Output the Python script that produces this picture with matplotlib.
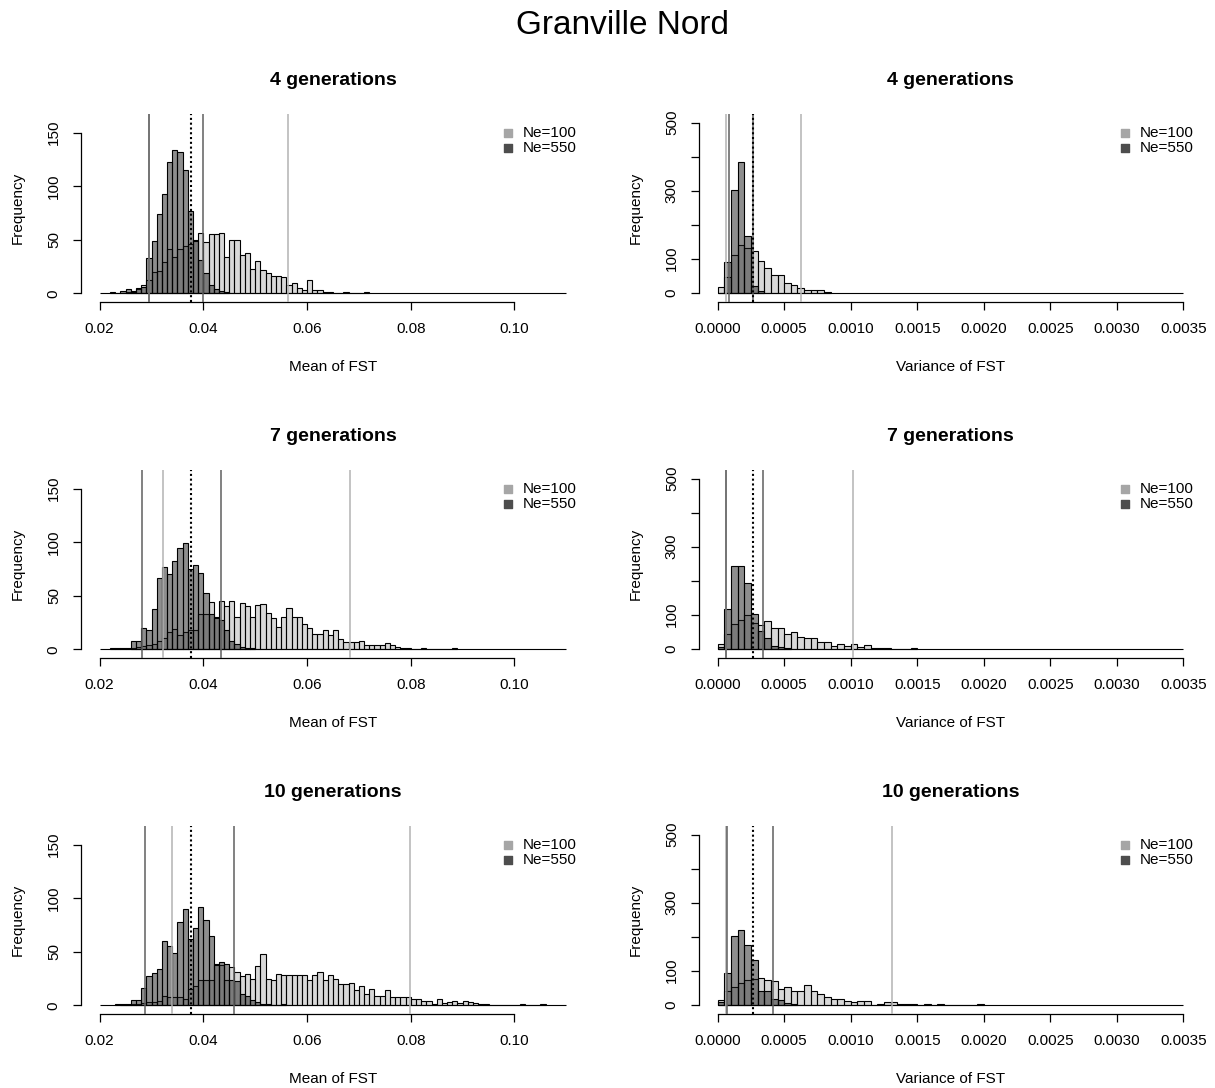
import numpy as np
import matplotlib
matplotlib.use("Agg")
import matplotlib.pyplot as plt

plt.rcParams['font.family'] = ['Liberation Sans', 'DejaVu Sans']

# ---- data ----
generations = ["4 generations", "7 generations", "10 generations"]

# Mean of FST histograms, bin width 0.001
mean_binw = 0.001
mean_ne100_start = [0.025, 0.026, 0.024]
mean_ne100_counts = [
    [1, 2, 4, 8, 12, 20, 21, 29, 41, 34, 41, 44, 46, 50, 56, 48, 55, 55, 56, 34,
     50, 50, 36, 38, 23, 30, 22, 19, 16, 16, 15, 8, 10, 5, 3, 12, 3, 3, 1, 1,
     0, 0, 1, 0, 0, 0, 1],
    [1, 2, 3, 4, 5, 8, 11, 16, 19, 13, 16, 18, 18, 33, 33, 44, 30, 45, 40, 45,
     30, 43, 40, 30, 41, 42, 34, 29, 21, 30, 39, 30, 30, 24, 20, 14, 14, 18, 13, 18,
     10, 7, 7, 7, 8, 4, 4, 4, 4, 6, 4, 2, 1, 1, 0, 0, 1, 0, 0, 0,
     0, 0, 1],
    [1, 0, 1, 1, 2, 3, 3, 4, 9, 8, 8, 8, 6, 15, 18, 24, 24, 24, 39, 38,
     24, 36, 31, 27, 29, 25, 37, 48, 25, 24, 29, 28, 28, 28, 28, 28, 24, 28, 31, 24,
     28, 25, 20, 20, 21, 14, 18, 11, 15, 9, 9, 14, 8, 8, 8, 8, 6, 6, 4, 4,
     1, 6, 2, 3, 4, 2, 4, 3, 2, 1, 1, 0, 0, 0, 0, 0, 0, 1, 0, 0, 0, 1],
]
mean_ne550_start = [0.022, 0.022, 0.023]
mean_ne550_counts = [
    [1, 0, 2, 4, 1, 5, 6, 33, 49, 74, 93, 123, 134, 132, 115, 77, 49, 31, 19, 8,
     4, 2, 1],
    [1, 1, 1, 1, 8, 8, 20, 18, 38, 67, 77, 70, 82, 95, 99, 75, 79, 71, 53, 33,
     29, 27, 18, 8, 5, 2, 1, 1],
    [1, 0, 1, 5, 5, 16, 27, 30, 34, 60, 55, 49, 78, 90, 62, 72, 92, 80, 65, 38,
     40, 39, 24, 23, 11, 9, 5, 3, 1, 1, 0, 0, 1],
]

# Variance of FST histograms, bin width 0.00005, starting at 0
var_binw = 0.00005
var_ne100_counts = [
    [16, 45, 112, 141, 132, 122, 93, 72, 52, 52, 29, 22, 13, 7, 7, 7, 3],
    [13, 44, 72, 85, 100, 75, 69, 82, 61, 61, 44, 48, 34, 30, 30, 20, 20, 9, 13, 7,
     13, 5, 10, 3, 3, 3, 0, 0, 0, 3],
    [14, 41, 52, 64, 73, 75, 78, 73, 69, 46, 52, 39, 39, 57, 39, 31, 22, 18, 18, 11,
     8, 12, 12, 0, 3, 9, 9, 3, 3, 3, 0, 3, 0, 3, 0, 0, 0, 0, 0, 3],
]
var_ne550_counts = [
    [0, 91, 301, 383, 168, 19, 4],
    [5, 116, 244, 244, 194, 103, 52, 30, 7, 4, 1],
    [8, 92, 203, 220, 176, 130, 39, 39, 18, 14, 5, 2],
]

# 2.5% / 97.5% quantile lines and observed value
mean_ne100_lines = [(0.0295, 0.0564), (0.0323, 0.0682), (0.0340, 0.0799)]
mean_ne550_lines = [(0.0295, 0.0400), (0.0281, 0.0434), (0.0287, 0.0459)]
obs_mean = 0.0377
var_ne100_lines = [(0.000066, 0.000625), (0.000063, 0.00102), (0.000066, 0.00131)]
var_ne550_lines = [(0.000085, 0.000264), (0.000063, 0.000339), (0.00007, 0.000416)]
obs_var = 0.000268

mean_ticks = [0.02, 0.04, 0.06, 0.08, 0.10]
var_ticks = [0.0, 0.0005, 0.0010, 0.0015, 0.0020, 0.0025, 0.0030, 0.0035]

# ---- styling ----
col100 = (0.70, 0.70, 0.70, 0.5)
col550 = (0.12, 0.12, 0.12, 0.5)
line100 = '#b3b3b3'
line550 = '#5f5f5f'
W, H = 1215, 1088

fig = plt.figure(figsize=(W / 100, H / 100), dpi=100)


def hist_bars(ax, start, counts, binw, color):
    edges = start + binw * np.arange(len(counts))
    ax.bar(edges, counts, width=binw, align='edge', color=color,
           edgecolor='black', linewidth=0.8, zorder=2)


def style_axis(ax, xticks, xlabels, yticks, ylabels, xlabel):
    for s in ['top', 'right']:
        ax.spines[s].set_visible(False)
    ax.spines['left'].set_bounds(yticks[0], yticks[-1])
    ax.spines['bottom'].set_bounds(xticks[0], xticks[-1])
    ax.spines['left'].set_linewidth(0.9)
    ax.spines['bottom'].set_linewidth(0.9)
    ax.set_xticks(xticks)
    ax.set_xticklabels(xlabels)
    ax.set_yticks(yticks)
    ax.set_yticklabels(ylabels)
    ax.tick_params(length=6, width=0.9, pad=8.5, labelsize=11, direction='out')
    ax.tick_params(axis='y', labelrotation=90)
    for lab in ax.get_yticklabels():
        lab.set_va('center')
    ax.set_xlabel(xlabel, fontsize=11)
    ax.xaxis.set_label_coords(0.5, -0.31)
    ax.set_ylabel('Frequency', fontsize=11)
    ax.yaxis.set_label_coords(-0.111, 0.5)
    ax.patch.set_alpha(0)


def legend(ax):
    ax.scatter([0.847], [0.899], s=26, marker='s', color='#a6a6a6',
               transform=ax.transAxes, clip_on=False, zorder=5)
    ax.scatter([0.847], [0.819], s=26, marker='s', color='#4d4d4d',
               transform=ax.transAxes, clip_on=False, zorder=5)
    ax.text(0.877, 0.899, 'Ne=100', transform=ax.transAxes, fontsize=11,
            va='center', ha='left')
    ax.text(0.877, 0.819, 'Ne=550', transform=ax.transAxes, fontsize=11,
            va='center', ha='left')


for i in range(3):
    top_px = 114 + 356 * i
    bot_px = 301.7 + 356 * i
    h = (bot_px - top_px) / H
    b = 1 - bot_px / H

    # left: mean of FST
    ax = fig.add_axes([81 / W, b, 504 / W, h])
    hist_bars(ax, mean_ne100_start[i], mean_ne100_counts[i], mean_binw, col100)
    hist_bars(ax, mean_ne550_start[i], mean_ne550_counts[i], mean_binw, col550)
    ax.hlines(0, 0.02, 0.11, color='black', linewidth=0.8, zorder=3)
    for x in mean_ne100_lines[i]:
        ax.axvline(x, color=line100, linewidth=1.1, zorder=4)
    for x in mean_ne550_lines[i]:
        ax.axvline(x, color=line550, linewidth=1.1, zorder=4)
    ax.axvline(obs_mean, color='black', linewidth=1.5, linestyle=(0, (1, 1.3)), zorder=5)
    ax.set_xlim(0.02 - 0.0036, 0.11 + 0.0036)
    ax.set_ylim(-7.8, 167.4)
    style_axis(ax, mean_ticks, ['%.2f' % t for t in mean_ticks],
               [0, 50, 100, 150], ['0', '50', '100', '150'], 'Mean of FST')
    ax.text(0.5, 1.181, generations[i], transform=ax.transAxes, ha='center',
            va='center', fontsize=14, fontweight='bold')
    legend(ax)

    # right: variance of FST
    ax = fig.add_axes([699 / W, b, 503 / W, h])
    hist_bars(ax, 0.0, var_ne100_counts[i], var_binw, col100)
    hist_bars(ax, 0.0, var_ne550_counts[i], var_binw, col550)
    ax.hlines(0, 0.0, 0.0035, color='black', linewidth=0.8, zorder=3)
    for x in var_ne100_lines[i]:
        ax.axvline(x, color=line100, linewidth=1.1, zorder=4)
    for x in var_ne550_lines[i]:
        ax.axvline(x, color=line550, linewidth=1.1, zorder=4)
    ax.axvline(obs_var, color='black', linewidth=1.5, linestyle=(0, (1, 1.3)), zorder=5)
    ax.set_xlim(-0.00014, 0.0035 + 0.00014)
    ax.set_ylim(-26.5, 525.6)
    style_axis(ax, var_ticks, ['%.4f' % t for t in var_ticks],
               [0, 100, 200, 300, 400, 500], ['0', '100', '', '300', '', '500'],
               'Variance of FST')
    ax.text(0.5, 1.181, generations[i], transform=ax.transAxes, ha='center',
            va='center', fontsize=14, fontweight='bold')
    legend(ax)

fig.text(622 / W, 1 - 25 / H, 'Granville Nord', ha='center', va='center', fontsize=24)

fig.savefig('out.png', dpi=100)
